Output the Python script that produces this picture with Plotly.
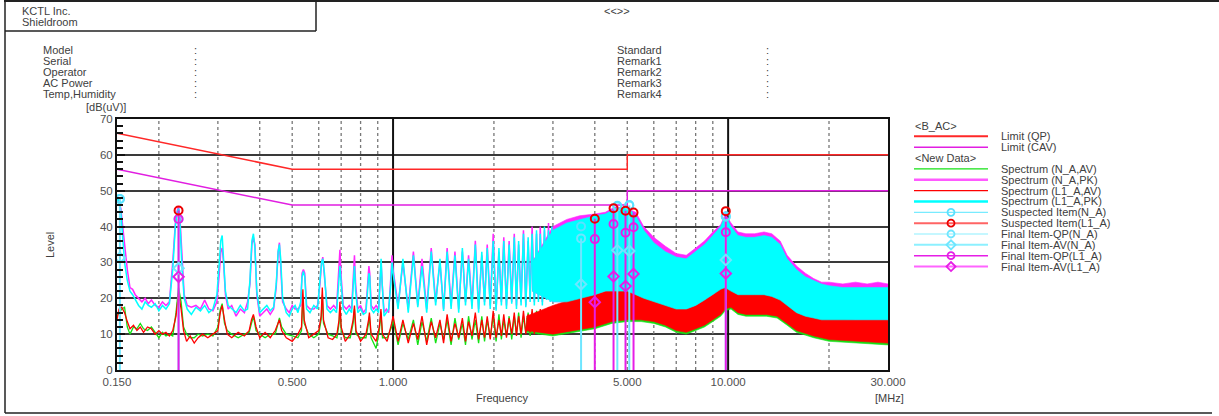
import math
import plotly.graph_objects as go

# ---------------- DATA ----------------
# Limits (B_AC)
LIM_F = [0.15, 0.5, 5.0, 5.0, 30.0]
LIM_QP = [66, 56, 56, 60, 60]
LIM_CAV = [56, 46, 46, 50, 50]

# Peak spectra, low-frequency part (0.15 - 3 MHz), shared frequency list
PK_F = [0.150, 0.152, 0.154, 0.156, 0.158, 0.161, 0.164, 0.167, 0.170, 0.174,
        0.178, 0.182, 0.186, 0.190, 0.195, 0.200, 0.205, 0.210, 0.215, 0.220,
        0.224, 0.227, 0.229, 0.231, 0.234, 0.238, 0.243, 0.250, 0.258, 0.266,
        0.274, 0.282, 0.290, 0.298, 0.303, 0.306, 0.309, 0.312, 0.316, 0.322,
        0.330, 0.340, 0.350, 0.360, 0.368, 0.374, 0.379, 0.383, 0.387, 0.392,
        0.400, 0.410, 0.420, 0.430, 0.440, 0.448, 0.454, 0.458, 0.462, 0.468,
        0.480, 0.490, 0.500, 0.510, 0.520, 0.530, 0.535, 0.540, 0.545, 0.552,
        0.565, 0.580, 0.595, 0.605, 0.612, 0.617, 0.624, 0.635, 0.650, 0.665,
        0.678, 0.688, 0.694, 0.700, 0.710, 0.725, 0.740, 0.752, 0.762, 0.767,
        0.773, 0.785, 0.800, 0.815, 0.830, 0.840, 0.847, 0.852, 0.860, 0.875,
        0.890, 0.905, 0.915, 0.921, 0.928, 0.940, 0.955, 0.970, 0.985, 0.993,
        1.000,
        1.035, 1.07, 1.11, 1.15, 1.185, 1.22, 1.26, 1.30, 1.34, 1.38,
        1.415, 1.45, 1.49, 1.53, 1.57, 1.61, 1.645, 1.68, 1.72, 1.76,
        1.80, 1.84, 1.875, 1.91, 1.95, 1.99, 2.03, 2.07, 2.105, 2.14,
        2.18, 2.22, 2.26, 2.30, 2.335, 2.37, 2.41, 2.45, 2.49, 2.53,
        2.565, 2.60, 2.64, 2.68, 2.715, 2.75, 2.79, 2.83, 2.87, 2.91,
        2.945, 2.98]

L1_PK = [47, 48, 44, 36, 30, 25, 22, 21, 19.5, 18,
         17, 19, 18, 17.5, 18.5, 16.5, 18, 17, 18.5, 28,
         40, 44, 45, 42, 30, 20, 17, 15.5, 17.5, 16.5,
         18, 16, 17, 21, 30, 36, 37.5, 32, 22, 18,
         17, 16, 18, 16.5, 17, 25, 36, 38, 34, 22,
         16, 17, 18, 16.5, 17.5, 24, 33, 35, 31, 20,
         16, 15, 17, 18, 16, 19, 26, 27.5, 26, 17,
         16, 18, 17, 25, 30, 31, 27, 17, 16, 17,
         16, 24, 29, 24, 17, 15.5, 17, 16, 26, 29,
         22, 16, 17, 15.5, 16, 22, 27, 26, 17, 16,
         17, 16, 25, 31, 24, 15, 16, 17, 24, 30,
         27,
         17, 31, 16, 32, 17.5, 29, 16, 33, 18, 31,
         16.5, 33, 17, 32, 16, 34, 18, 31, 17, 35,
         16, 33, 18, 34, 17, 36, 16.5, 34, 18, 36,
         17, 35, 18.5, 37, 17, 36, 18, 38, 17.5, 37,
         19, 38, 18, 39, 19, 38, 18, 40, 19.5, 39,
         19, 40]

N_PK = [48, 47, 45, 40, 34, 28, 23, 22.5, 21, 20,
        19, 20, 18.5, 19.5, 18, 17.5, 19, 18, 19, 30,
        41, 44.5, 45.5, 43, 32, 21, 18, 17.5, 18, 17,
        19.5, 17, 16.5, 19, 27, 33, 34, 30, 21, 17,
        18, 15, 17, 16, 19, 24, 35, 37, 35, 21,
        15, 16, 17, 15.5, 17, 23, 33, 35.5, 30, 19,
        17, 16, 18, 17, 17, 18, 27, 28, 27, 18,
        17, 17, 18, 24, 30, 31.5, 26, 18, 17, 18,
        17, 28, 33.5, 26, 18, 17, 18, 17, 29, 32,
        24, 17, 18, 16, 17, 24, 29, 27, 18, 17,
        18, 17, 26, 30, 24, 16, 17, 16, 26, 32,
        28,
        18, 30, 17, 33, 18, 31, 17, 34, 19, 30,
        17, 34, 18, 33, 17, 33, 19, 32, 18, 36,
        17, 32, 19, 35, 18, 38, 17, 33, 19, 37,
        18, 36, 19, 38, 18, 35, 19, 39, 18, 36,
        20, 40, 19, 38, 20, 40, 19, 39, 20, 41,
        20, 40]

# Peak spectra, dense part (2.6 - 30 MHz): envelopes
PKB_F = [2.6, 3.0, 3.3, 3.6, 4.0, 4.3, 4.6, 5.0, 5.3, 5.6, 6.0,
         6.5, 7.0, 7.5, 8.0, 8.5, 9.0, 9.5, 9.8, 10.2, 10.7,
         11.3, 12.0, 12.8, 13.5, 14.3, 15.0, 16.0, 17.0, 18.0, 19.0,
         20.0, 22.0, 24.0, 26.0, 28.0, 30.0]
L1_PK_HI = [30, 39, 41, 42, 43, 43.5, 45, 45.5, 43, 39, 35.5,
            33, 31.5, 31, 33, 35, 37.5, 40, 43, 40, 37.5,
            37, 37, 37.5, 37, 35, 31, 28, 26, 25, 24,
            23.5, 23, 23, 23, 23, 23]
L1_PK_LO = [22, 19, 19, 20, 21, 22, 22, 22, 21, 20, 19,
            18, 17, 17, 18, 19.5, 21, 22.5, 23, 22, 21,
            21, 21, 21, 20.5, 19.5, 18, 16, 15, 14.5, 14,
            14, 14, 14, 14, 14, 14]
N_PK_HI = [30, 40, 42, 43, 43.5, 44, 45.5, 45, 44, 40, 37,
           34.5, 32.5, 32, 34, 36, 38.5, 40.5, 43.5, 41, 38.5,
           38, 38, 38.5, 38, 36, 32, 29, 27, 25.5, 24.5,
           24.5, 24, 24.5, 24, 24.5, 24]
N_PK_LO = [22, 19, 19, 20, 21, 22, 22, 22, 21, 20, 19,
           18, 17, 17, 18, 19.5, 21, 22.5, 23, 22, 21,
           21, 21, 21, 20.5, 19.5, 18, 16, 15, 14.5, 14,
           14, 14, 14, 14, 14, 14]

# Average spectra, low-frequency part (0.15 - 3 MHz)
AV_F = [0.150, 0.152, 0.155, 0.158, 0.161, 0.164, 0.168, 0.172, 0.176, 0.180,
        0.185, 0.190, 0.195, 0.200, 0.205, 0.210, 0.215, 0.220, 0.225, 0.229,
        0.233, 0.237, 0.242, 0.248, 0.255, 0.262, 0.270, 0.280, 0.290, 0.300,
        0.305, 0.309, 0.314, 0.320, 0.330, 0.345, 0.360, 0.372, 0.378, 0.383,
        0.390, 0.400, 0.415, 0.430, 0.445, 0.452, 0.458, 0.465, 0.480, 0.500,
        0.520, 0.533, 0.538, 0.543, 0.560, 0.580, 0.600, 0.610, 0.615, 0.620,
        0.640, 0.660, 0.680, 0.690, 0.694, 0.700, 0.720, 0.745, 0.760, 0.767,
        0.775, 0.800, 0.830, 0.845, 0.850, 0.860, 0.890, 0.910, 0.920, 0.930,
        0.960, 0.990, 1.000,
        1.035, 1.07, 1.11, 1.15, 1.185, 1.22, 1.26, 1.30, 1.34, 1.38,
        1.415, 1.45, 1.49, 1.53, 1.57, 1.61, 1.645, 1.68, 1.72, 1.76,
        1.80, 1.84, 1.875, 1.91, 1.95, 1.99, 2.03, 2.07, 2.105, 2.14,
        2.18, 2.22, 2.26, 2.30, 2.335, 2.37, 2.41, 2.45, 2.49, 2.53,
        2.565, 2.60, 2.64, 2.68, 2.715, 2.75, 2.79, 2.83, 2.87, 2.91,
        2.945, 2.98]
L1_AV = [14, 17, 17.5, 16, 13.5, 11.5, 12.5, 11, 12, 10.5,
         12, 11.5, 10, 11, 10, 10.5, 9.5, 11, 15, 21.5,
         17, 11, 8, 9.5, 7.5, 9, 10, 9, 10, 11,
         16, 18, 14, 10, 9, 10.5, 9.5, 11, 14, 15.5,
         12, 9, 10.5, 9, 11, 13, 14, 11, 9, 8,
         10, 12, 22.5, 14, 9, 10, 11, 15, 23, 14,
         9, 8.5, 10, 14, 19, 12, 8, 10, 14, 18,
         11, 8, 10, 14, 16, 10, 8, 12, 17, 10,
         8, 13, 15,
         8, 14, 7.5, 13, 8.5, 15, 7, 13.5, 9, 14,
         7.5, 15.5, 8, 13, 9, 14.5, 8, 13.5, 9.5, 16,
         8.5, 14, 9, 15, 8.5, 16.5, 9, 14, 9.5, 15.5,
         9, 14.5, 10, 16, 9.5, 15, 10, 16.5, 10, 15.5,
         10.5, 17, 10, 16, 11, 17, 10.5, 16.5, 11, 17.5,
         11, 17]
N_AV = [15, 16, 17, 17.5, 12, 10, 12, 11.5, 13, 11.5,
        11, 12, 10.5, 9, 10.5, 9.5, 10, 9.5, 16, 23,
        19, 12, 10, 9, 9, 10, 9.5, 10, 9.5, 12,
        17, 18.5, 13, 11, 10, 9, 10, 10.5, 13, 15,
        11, 10, 9, 10, 10, 12.5, 14.5, 12, 10, 9.5,
        9, 11, 20, 13, 10, 9, 10, 14, 21, 13,
        10, 9.5, 9, 13, 18, 11, 9, 9, 13, 17,
        10, 9, 9, 13, 15, 9, 6, 11, 16, 9,
        9, 12, 14,
        7, 13, 8.5, 14, 7, 13.5, 8, 14.5, 7.5, 13,
        8.5, 14, 7, 14.5, 8.5, 13, 7, 15, 8.5, 14,
        7.5, 15, 8, 14, 9, 15, 8, 15.5, 8.5, 14,
        9.5, 15, 8.5, 15, 10, 16, 9, 15, 10.5, 16,
        9.5, 16, 10.5, 16.5, 10, 16, 11, 17, 10, 16.5,
        11.5, 17]

# Average spectra, dense part (2.5 - 30 MHz): envelopes
AVB_F = [2.5, 3.0, 3.5, 4.0, 4.5, 5.0,
         5.5, 6.0, 6.5, 7.0, 7.5, 8.0, 8.5, 9.0, 9.5, 9.8,
         10.2, 10.7, 11.3, 12.0, 13.0, 14.0, 15.0, 16.0, 18.0, 20.0,
         24.0, 30.0]
L1_AV_HI = [15, 18, 20, 21, 22.5, 23,
            22, 21, 19.5, 18, 17, 18, 19.5, 21, 23, 25,
            24, 22, 22, 22.5, 22.5, 21.5, 19, 17, 15.5, 14.5,
            14, 14]
L1_AV_LO = [11, 10, 11, 12, 13.5, 14,
            14, 13.5, 12.5, 11, 10.5, 11.5, 12.5, 14, 15.5, 17,
            17.5, 16, 15.5, 15.5, 15.5, 15, 13, 11, 9.5, 8.5,
            8, 7.5]
N_AV_HI = [14.5, 17.5, 19.5, 20.5, 22, 22.5,
           21.5, 20.5, 19, 17.5, 16.5, 17.5, 19, 20.5, 22.5, 24.5,
           23.5, 21.5, 21.5, 22, 22, 21, 18.5, 16.5, 15, 14,
           13.5, 13.5]
N_AV_LO = [10.5, 9.5, 10.5, 11.5, 13, 13.5,
           13.5, 13, 12, 10.5, 10, 11, 12, 13.5, 15, 16.5,
           17, 15.5, 15, 15, 15, 14.5, 12.5, 10.5, 9, 8,
           7.5, 7]

# Measured items
SUSP_N_F = [0.153, 3.64, 4.67, 5.07, 9.84]
SUSP_N_V = [47.7, 40.0, 45.8, 46.0, 42.8]
FIN_N_F = [0.153, 0.229, 3.64, 4.67, 5.07, 9.84]
FIN_N_QP = [47.7, 42.1, 36.7, 45.6, 45.9, 42.8]
FIN_N_AV = [31.3, 28.4, 23.9, 33.4, 33.2, 30.7]

SUSP_L1_F = [0.229, 4.00, 4.55, 4.94, 5.22, 9.84]
SUSP_L1_V = [44.5, 42.2, 45.1, 44.4, 43.9, 44.3]
FIN_L1_QP = [42.1, 36.5, 40.7, 38.3, 39.8, 38.4]
FIN_L1_AV = [26.0, 18.9, 26.1, 23.4, 26.8, 26.9]

X_TICKS = [0.15, 0.5, 1.0, 5.0, 10.0, 30.0]
X_TICKTEXT = ["0.150", "0.500", "1.000", "5.000", "10.000", "30.000"]
GRID_MINOR = [0.2, 0.3, 0.4, 0.5, 0.6, 0.7, 0.8, 0.9, 2, 3, 4, 5, 6, 7, 8, 9, 20]
GRID_MAJOR = [1.0, 10.0]

for a, b in [(PK_F, L1_PK), (PK_F, N_PK), (PKB_F, L1_PK_HI), (PKB_F, L1_PK_LO),
             (PKB_F, N_PK_HI), (PKB_F, N_PK_LO), (AV_F, L1_AV), (AV_F, N_AV),
             (AVB_F, L1_AV_HI), (AVB_F, L1_AV_LO), (AVB_F, N_AV_HI), (AVB_F, N_AV_LO)]:
    assert len(a) == len(b), (len(a), len(b))

# ---------------- LAYOUT HELPERS ----------------
W, H = 1219, 416
PX0, PX1, PY0, PY1 = 117, 888, 119, 370


def px(x):
    return x / W


def py(y):
    return 1 - y / H


FONT = "Liberation Sans, Arial, sans-serif"
TXT = "#404040"

C_GREEN = "rgb(20,225,20)"
C_MAG = "rgb(255,40,255)"
C_RED = "rgb(255,0,0)"
C_CYAN = "rgb(0,255,255)"
C_QP = "rgb(255,40,40)"
C_CAV = "rgb(225,30,225)"
C_SN = "rgb(90,225,255)"
C_SL = "rgb(235,0,0)"
C_FN = "rgb(110,230,255)"
C_FL = "rgb(230,30,230)"

fig = go.Figure()


def vlines(freqs):
    xs, ys = [], []
    for f in freqs:
        xs += [f, f, None]
        ys += [0, 70, None]
    return xs, ys


gx, gy = vlines(GRID_MINOR)
fig.add_trace(go.Scatter(x=gx, y=gy, mode="lines", line=dict(color="#777", width=1.3, dash="dot"),
                         hoverinfo="skip", showlegend=False))
gx, gy = vlines(GRID_MAJOR)
fig.add_trace(go.Scatter(x=gx, y=gy, mode="lines", line=dict(color="#111", width=2),
                         hoverinfo="skip", showlegend=False))


def band(f, hi, lo, color):
    return go.Scatter(x=list(f) + list(f)[::-1], y=list(hi) + list(lo)[::-1],
                      mode="lines", fill="toself", fillcolor=color,
                      line=dict(color=color, width=0.6), hoverinfo="skip", showlegend=False)


# N_A AV (green)
fig.add_trace(go.Scatter(x=AV_F, y=N_AV, mode="lines", line=dict(color=C_GREEN, width=1.3), showlegend=False))
fig.add_trace(band(AVB_F, N_AV_HI, N_AV_LO, C_GREEN))
# N_A PK (magenta)
fig.add_trace(go.Scatter(x=PK_F, y=N_PK, mode="lines", line=dict(color=C_MAG, width=1.5), showlegend=False))
fig.add_trace(band(PKB_F, N_PK_HI, N_PK_LO, C_MAG))
# L1_A AV (red)
fig.add_trace(go.Scatter(x=AV_F, y=L1_AV, mode="lines", line=dict(color=C_RED, width=1.3), showlegend=False))
fig.add_trace(band(AVB_F, L1_AV_HI, L1_AV_LO, C_RED))
# L1_A PK (cyan)
fig.add_trace(go.Scatter(x=PK_F, y=L1_PK, mode="lines", line=dict(color=C_CYAN, width=1.5), showlegend=False))
fig.add_trace(band(PKB_F, L1_PK_HI, L1_PK_LO, C_CYAN))

# Limits
fig.add_trace(go.Scatter(x=LIM_F, y=LIM_QP, mode="lines", line=dict(color=C_QP, width=1.5), showlegend=False))
fig.add_trace(go.Scatter(x=LIM_F, y=LIM_CAV, mode="lines", line=dict(color=C_CAV, width=1.5), showlegend=False))


def stems(freqs, vals):
    xs, ys = [], []
    for f, v in zip(freqs, vals):
        xs += [f, f, None]
        ys += [v, 0, None]
    return xs, ys


sx, sy = stems(FIN_N_F, FIN_N_QP)
fig.add_trace(go.Scatter(x=sx, y=sy, mode="lines", line=dict(color=C_FN, width=2), showlegend=False))
sx, sy = stems(SUSP_L1_F, SUSP_L1_V)
fig.add_trace(go.Scatter(x=sx, y=sy, mode="lines", line=dict(color=C_FL, width=2), showlegend=False))

circ = dict(symbol="circle-open", size=8)
diam = dict(symbol="diamond-open", size=8)
fig.add_trace(go.Scatter(x=FIN_N_F, y=FIN_N_AV, mode="markers",
                         marker=dict(**diam, color=C_FN, line=dict(width=2)), showlegend=False))
fig.add_trace(go.Scatter(x=FIN_N_F, y=FIN_N_QP, mode="markers",
                         marker=dict(**circ, color=C_FN, line=dict(width=2)), showlegend=False))
fig.add_trace(go.Scatter(x=SUSP_N_F, y=SUSP_N_V, mode="markers",
                         marker=dict(**circ, color=C_SN, line=dict(width=2)), showlegend=False))
fig.add_trace(go.Scatter(x=SUSP_L1_F, y=FIN_L1_AV, mode="markers",
                         marker=dict(**diam, color=C_FL, line=dict(width=2)), showlegend=False))
fig.add_trace(go.Scatter(x=SUSP_L1_F, y=FIN_L1_QP, mode="markers",
                         marker=dict(**circ, color=C_FL, line=dict(width=2)), showlegend=False))
fig.add_trace(go.Scatter(x=SUSP_L1_F, y=SUSP_L1_V, mode="markers",
                         marker=dict(**circ, color=C_SL, line=dict(width=2)), showlegend=False))

# ---------------- CUSTOM LEGEND (pixel overlay axes) ----------------
LEG_ITEMS = [
    ("<B_AC>", None, None, None, 0),
    ("Limit (QP)", C_QP, 2, None, 0),
    ("Limit (CAV)", C_CAV, 1.5, None, 0),
    ("<New Data>", None, None, None, 0),
    ("Spectrum (N_A,AV)", C_GREEN, 1.2, None, 0),
    ("Spectrum (N_A,PK)", "rgb(255,90,255)", 2.5, None, 0),
    ("Spectrum (L1_A,AV)", C_RED, 1.2, None, 0),
    ("Spectrum (L1_A,PK)", C_CYAN, 2.5, None, 0),
    ("Suspected Item(N_A)", "rgb(120,235,255)", 1.2, "circle-open", C_SN),
    ("Suspected Item(L1_A)", "rgb(255,100,100)", 2, "circle-open", C_SL),
    ("Final Item-QP(N_A)", "rgb(140,240,255)", 1.2, "circle-open", C_FN),
    ("Final Item-AV(N_A)", "rgb(140,240,255)", 2, "diamond-open", C_FN),
    ("Final Item-QP(L1_A)", C_FL, 1.5, "circle-open", C_FL),
    ("Final Item-AV(L1_A)", "rgb(255,100,255)", 2, "diamond-open", C_FL),
]
LEG_Y0, LEG_DY = 125.5, 10.85
annotations = []
for i, (label, col, lw, sym, mcol) in enumerate(LEG_ITEMS):
    yy = LEG_Y0 + i * LEG_DY
    if col is None:
        annotations.append(dict(x=px(913), y=py(yy), xref="paper", yref="paper", text=label.replace("<", "&lt;").replace(">", "&gt;"),
                                showarrow=False, xanchor="left", yanchor="middle",
                                font=dict(family=FONT, size=11, color=TXT)))
        continue
    fig.add_trace(go.Scatter(x=[914, 988], y=[yy, yy], mode="lines", line=dict(color=col, width=lw),
                             xaxis="x2", yaxis="y2", hoverinfo="skip", showlegend=False))
    if sym:
        fig.add_trace(go.Scatter(x=[951], y=[yy], mode="markers",
                                 marker=dict(symbol=sym, size=7, color=mcol, line=dict(width=1.8)),
                                 xaxis="x2", yaxis="y2", hoverinfo="skip", showlegend=False))
    annotations.append(dict(x=px(999), y=py(yy), xref="paper", yref="paper", text=label,
                            showarrow=False, xanchor="left", yanchor="middle",
                            font=dict(family=FONT, size=11, color=TXT)))

# ---------------- HEADER ----------------


def text(x, y, s, anchor="left", size=11, angle=0):
    annotations.append(dict(x=px(x), y=py(y), xref="paper", yref="paper", text=s,
                            showarrow=False, xanchor=anchor, yanchor="middle", textangle=angle,
                            font=dict(family=FONT, size=size, color=TXT)))


text(20, 11, "KCTL Inc.")
text(20, 22, "Shieldroom")
text(602, 11, "&lt;&lt;&gt;&gt;")
for i, s in enumerate(["Model", "Serial", "Operator", "AC Power", "Temp,Humidity"]):
    text(41, 50.5 + i * 10.9, s)
    text(192, 50.5 + i * 10.9, ":")
for i, s in enumerate(["Standard", "Remark1", "Remark2", "Remark3", "Remark4"]):
    text(615, 50.5 + i * 10.9, s)
    text(764, 50.5 + i * 10.9, ":")
text(106, 107, "[dB(uV)]", anchor="center")
text(50, 245, "Level", anchor="center", angle=-90)
text(502, 398, "Frequency", anchor="center")
text(873, 398, "[MHz]")

shapes = []


def pline(x0, y0, x1, y1, w=1.5, c="#222"):
    shapes.append(dict(type="line", xref="paper", yref="paper", x0=px(x0), y0=py(y0), x1=px(x1), y1=py(y1),
                       line=dict(color=c, width=w)))


pline(4, 1, W, 1, w=2)
pline(5, 0, 5, 413, w=1.5)
pline(5, 413, 1212, 413, w=1.5)
pline(5, 31, 316, 31, w=1.5)
pline(316, 0, 316, 31, w=1.5)

fig.update_layout(
    width=W, height=H, autosize=False,
    margin=dict(l=0, r=0, t=0, b=0, pad=0, autoexpand=False),
    paper_bgcolor="white", plot_bgcolor="rgba(0,0,0,0)",
    showlegend=False,
    xaxis=dict(type="log", range=[math.log10(0.15), math.log10(30)], domain=[px(PX0), px(PX1)],
               showgrid=False, zeroline=False, showline=True, linecolor="#111", linewidth=2, mirror=True,
               tickvals=X_TICKS, ticktext=X_TICKTEXT, ticks="", automargin=False,
               tickfont=dict(family=FONT, size=11.5, color="#505050"), anchor="y", fixedrange=True),
    yaxis=dict(range=[0, 70], domain=[py(PY1), py(PY0)], dtick=10, showgrid=True, gridcolor="#3a3a3a",
               gridwidth=1.5, zeroline=False, showline=True, linecolor="#111", linewidth=2, mirror=True,
               ticks="inside", ticklen=8, tickcolor="#111", tickwidth=1.5, automargin=False,
               minor=dict(dtick=2, ticks="inside", ticklen=6, tickcolor="#111", showgrid=False),
               tickfont=dict(family=FONT, size=11.5, color="#505050"), anchor="x", fixedrange=True),
    xaxis2=dict(domain=[0, 1], range=[0, W], visible=False, anchor="y2", fixedrange=True, automargin=False),
    yaxis2=dict(domain=[0, 1], range=[H, 0], visible=False, anchor="x2", fixedrange=True, automargin=False),
    annotations=annotations,
    shapes=shapes,
)

fig.write_html("out.html", config={"displayModeBar": False},
               post_script="document.body.style.margin='0';document.body.style.overflow='hidden';")
